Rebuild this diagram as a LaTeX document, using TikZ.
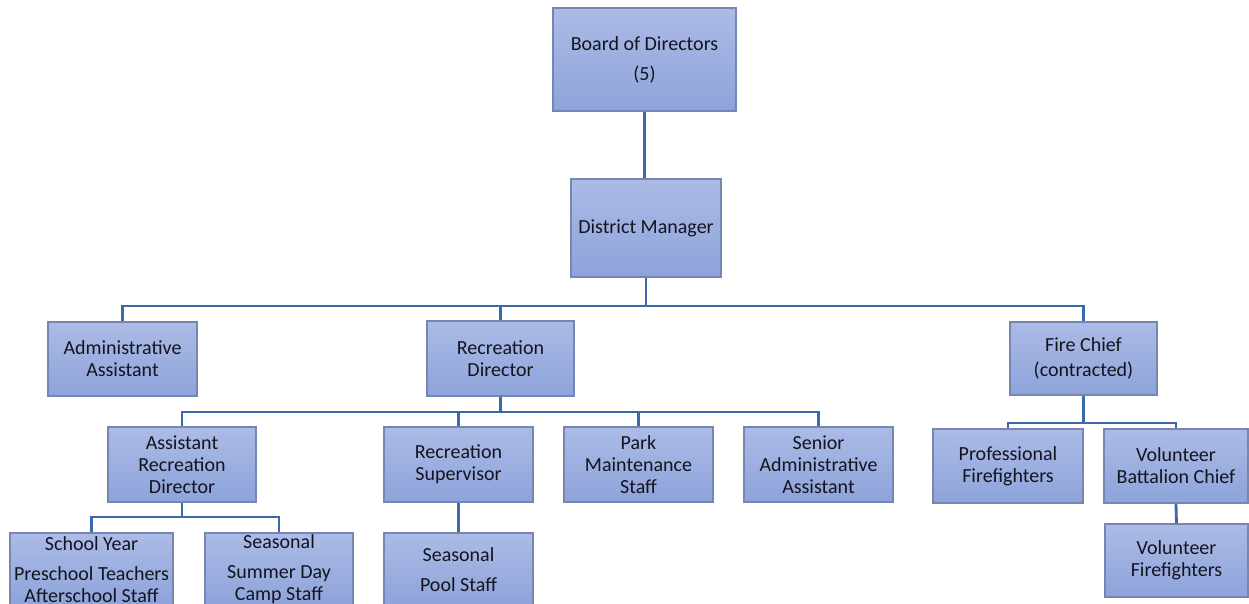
\documentclass[tikz,border=0pt]{standalone}
\usepackage{fontspec}
\setmainfont{Carlito}
\definecolor{boxtop}{RGB}{172,187,230}
\definecolor{boxbot}{RGB}{141,163,218}
\definecolor{boxline}{RGB}{118,134,176}
\definecolor{conncol}{RGB}{60,104,174}
\definecolor{txtcol}{RGB}{20,20,30}
\tikzset{
  orgbox/.style={draw=boxline, line width=0.6pt, top color=boxtop, bottom color=boxbot,
    inner sep=0pt, align=center, text=txtcol, font=\fontsize{10}{11}\selectfont},
  conn/.style={draw=conncol, line width=1.4pt}
}
\begin{document}
\begin{tikzpicture}[x=0.5pt,y=-0.5pt]
\clip (0,0) rectangle (1249,604);
\fill[white] (0,0) rectangle (1249,604);
% boxes
\node[orgbox, minimum width=91.5pt, minimum height=51.5pt] (board) at (644.5,59.5) {Board of Directors\\[4pt](5)};
\node[orgbox, minimum width=75pt, minimum height=49pt] (dm) at (646,228) {District Manager};
\node[orgbox, minimum width=74.5pt, minimum height=37pt] (aa) at (122.5,359) {Administrative\\Assistant};
\node[orgbox, minimum width=73.5pt, minimum height=37.5pt] (rd) at (500.5,358.5) {Recreation\\Director};
\node[orgbox, minimum width=73.5pt, minimum height=36.5pt] (fc) at (1083.5,358.5) {Fire Chief\\[1.5pt](contracted)};
\node[orgbox, minimum width=74pt, minimum height=37.5pt] (ard) at (182,464.5) {Assistant\\Recreation\\Director};
\node[orgbox, minimum width=74.5pt, minimum height=37.5pt] (rs) at (458.5,464.5) {Recreation\\Supervisor};
\node[orgbox, minimum width=74.5pt, minimum height=37.5pt] (pm) at (638.5,464.5) {Park\\Maintenance\\Staff};
\node[orgbox, minimum width=74.5pt, minimum height=37.5pt] (saa) at (818.5,464.5) {Senior\\Administrative\\Assistant};
\node[orgbox, minimum width=81.5pt, minimum height=36.5pt] (sy) at (91.5,569.5) {School Year\\[4pt]Preschool Teachers\\Afterschool Staff};
\node[orgbox, minimum width=74pt, minimum height=36.5pt] (ss) at (279,569.5) {Seasonal\\[4pt]Summer Day\\Camp Staff};
\node[orgbox, minimum width=74.5pt, minimum height=37pt] (sp) at (458.5,570) {Seasonal\\[4pt]Pool Staff};
\node[orgbox, minimum width=75pt, minimum height=37pt] (pf) at (1008,466) {Professional\\Firefighters};
\node[orgbox, minimum width=72pt, minimum height=37pt] (vbc) at (1176,466) {Volunteer\\Battalion Chief};
\node[orgbox, minimum width=71.5pt, minimum height=36.5pt] (vf) at (1176.5,560.5) {Volunteer\\Firefighters};
% bus coordinates
\coordinate (bus1) at (0,306);
\coordinate (bus2) at (0,412);
\coordinate (bus3) at (0,517);
\coordinate (bus4) at (0,423);
% connectors
\draw[conn] (board.south) -- (board.south |- dm.north);
\draw[conn] (dm.south) -- (dm.south |- bus1) -| (aa.north);
\draw[conn] (dm.south |- bus1) -| (rd.north);
\draw[conn] (dm.south |- bus1) -| (fc.north);
\draw[conn] (rd.south) -- (rd.south |- bus2) -| (ard.north);
\draw[conn] (rd.south |- bus2) -| (rs.north);
\draw[conn] (rd.south |- bus2) -| (pm.north);
\draw[conn] (rd.south |- bus2) -| (saa.north);
\draw[conn] (ard.south) -- (ard.south |- bus3) -| (sy.north);
\draw[conn] (ard.south |- bus3) -| (ss.north);
\draw[conn] (rs.south) -- (sp.north);
\draw[conn] (fc.south) -- (fc.south |- bus4) -| (pf.north);
\draw[conn] (fc.south |- bus4) -| (vbc.north);
\draw[conn] (vbc.south) -- (vf.north);
\end{tikzpicture}
\end{document}
